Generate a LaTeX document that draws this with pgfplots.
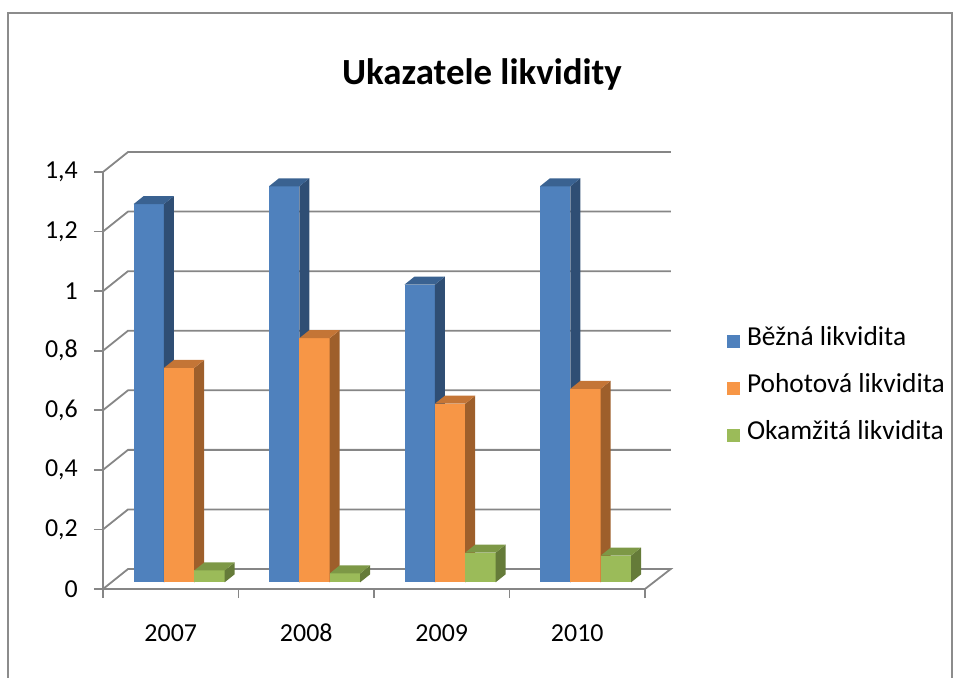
\documentclass[border=0pt]{standalone}
\usepackage{fontspec}
\setmainfont{Carlito}
\usepackage{pgfplots}
\pgfplotsset{compat=1.18}
\usepackage{pgfplotstable}

\definecolor{bF}{HTML}{4F81BD}
\definecolor{bS}{HTML}{2F4E74}
\definecolor{bT}{HTML}{3A6291}
\definecolor{oF}{HTML}{F79646}
\definecolor{oS}{HTML}{9E5F2B}
\definecolor{oT}{HTML}{C47536}
\definecolor{gF}{HTML}{9BBB59}
\definecolor{gS}{HTML}{657B39}
\definecolor{gT}{HTML}{7D9846}
\definecolor{gridc}{HTML}{868686}
\definecolor{framec}{HTML}{8C8C8C}

\pgfplotstableread{
x b p o
0 1.27 0.72 0.04
1 1.33 0.82 0.03
2 1.00 0.60 0.10
3 1.33 0.65 0.09
}\liq

\newcommand\drawbar[4]{%
 \pgfmathsetlengthmacro\Hh{\hv*297.857bp}%
 \pgfmathsetlengthmacro\Lx{-37.2bp+#1*30.33bp}%
 \pgfmathsetlengthmacro\Rx{\Lx+30.33bp}%
 \pgfmathsetlengthmacro\Yb{6.6bp-\Hh}%
 \pgfmathsetlengthmacro\Yt{6.6bp}%
 \pgfsetfillcolor{#2}%
 \pgfpathrectanglecorners{\pgfpoint{\Lx}{\Yb}}{\pgfpoint{\Rx}{\Yt}}%
 \pgfusepath{fill}%
 \pgfsetfillcolor{#3}%
 \pgfpathmoveto{\pgfpoint{\Rx}{\Yb}}%
 \pgfpathlineto{\pgfpoint{\Rx+10bp}{\Yb+8bp}}%
 \pgfpathlineto{\pgfpoint{\Rx+10bp}{\Yt+8bp}}%
 \pgfpathlineto{\pgfpoint{\Rx}{\Yt}}%
 \pgfpathclose
 \pgfusepath{fill}%
 \pgfsetfillcolor{#4}%
 \pgfpathmoveto{\pgfpoint{\Lx}{\Yt}}%
 \pgfpathlineto{\pgfpoint{\Lx+10bp}{\Yt+8bp}}%
 \pgfpathlineto{\pgfpoint{\Rx+10bp}{\Yt+8bp}}%
 \pgfpathlineto{\pgfpoint{\Rx}{\Yt}}%
 \pgfpathclose
 \pgfusepath{fill}%
}
\pgfdeclareplotmark{barB}{\drawbar{0}{bF}{bS}{bT}}
\pgfdeclareplotmark{barO}{\drawbar{1}{oF}{oS}{oT}}
\pgfdeclareplotmark{barG}{\drawbar{2}{gF}{gS}{gT}}

\begin{document}
\begin{tikzpicture}
\useasboundingbox (0,0) rectangle (954bp,-678bp);
\draw[line width=2bp, framec] (8bp,-680bp) -- (8bp,-13bp) -- (952bp,-13bp) -- (952bp,-680bp);
\node[font=\fontsize{37}{44}\selectfont\bfseries, anchor=base] at (482bp,-84.3bp) {Ukazatele likvidity};
\begin{axis}[
  at={(103bp,-589bp)}, anchor=south west,
  scale only axis, width=542bp, height=417bp,
  xmin=-0.5, xmax=3.5, ymin=0, ymax=1.4,
  clip=false,
  axis x line*=bottom, axis y line*=left,
  axis line style={gridc, line width=1.8bp},
  tick style={gridc, line width=1.8bp},
  tick align=outside, major tick length=9bp,
  xtick={-0.5,0.5,1.5,2.5,3.5}, xticklabels={},
  extra x ticks={0,1,2,3}, extra x tick labels={2007,2008,2009,2010},
  extra x tick style={major tick length=0pt,
    xticklabel style={anchor=north, text height=17bp, text depth=4bp, yshift=-32bp}},
  ytick={0,0.2,0.4,0.6,0.8,1,1.2,1.4},
  /pgf/number format/use comma, /pgf/number format/fixed, /pgf/number format/precision=1,
  yticklabel style={inner sep=0pt, xshift=-16bp},
  ticklabel style={font=\fontsize{26}{30}\selectfont},
  /pgf/number format/assume math mode=true,
  legend style={at={(1.151,0.482)}, anchor=west, draw=none, fill=none,
    inner sep=0pt, column sep=7bp, row sep=23bp,
    nodes={inner sep=0pt, text height=16bp, text depth=8bp,
      font=\fontsize{27.5}{32}\selectfont}},
  legend cell align=left,
  legend image code/.code={\fill[#1] (0bp,-6.5bp) rectangle (13bp,6.5bp);},
]
\addplot[gridc, line width=1.8bp, forget plot] coordinates {(-0.5,0) (-0.3155,0.0671) (3.69,0.0671) (3.5,0)};
\addplot[gridc, line width=1.8bp, forget plot] coordinates {(-0.5,0.2) (-0.3155,0.2671) (3.69,0.2671)};
\addplot[gridc, line width=1.8bp, forget plot] coordinates {(-0.5,0.4) (-0.3155,0.4671) (3.69,0.4671)};
\addplot[gridc, line width=1.8bp, forget plot] coordinates {(-0.5,0.6) (-0.3155,0.6671) (3.69,0.6671)};
\addplot[gridc, line width=1.8bp, forget plot] coordinates {(-0.5,0.8) (-0.3155,0.8671) (3.69,0.8671)};
\addplot[gridc, line width=1.8bp, forget plot] coordinates {(-0.5,1.0) (-0.3155,1.0671) (3.69,1.0671)};
\addplot[gridc, line width=1.8bp, forget plot] coordinates {(-0.5,1.2) (-0.3155,1.2671) (3.69,1.2671)};
\addplot[gridc, line width=1.8bp, forget plot] coordinates {(-0.5,1.4) (-0.3155,1.4671) (3.69,1.4671)};

\addplot[scatter, only marks, mark=barB, forget plot, visualization depends on={rawy \as \hv}] table[x=x, y=b] {\liq};
\addplot[scatter, only marks, mark=barO, forget plot, visualization depends on={rawy \as \hv}] table[x=x, y=p] {\liq};
\addplot[scatter, only marks, mark=barG, forget plot, visualization depends on={rawy \as \hv}] table[x=x, y=o] {\liq};

\addlegendimage{fill=bF, draw=none}
\addlegendentry{Běžná likvidita}
\addlegendimage{fill=oF, draw=none}
\addlegendentry{Pohotová likvidita}
\addlegendimage{fill=gF, draw=none}
\addlegendentry{Okamžitá likvidita}
\end{axis}
\end{tikzpicture}
\end{document}
